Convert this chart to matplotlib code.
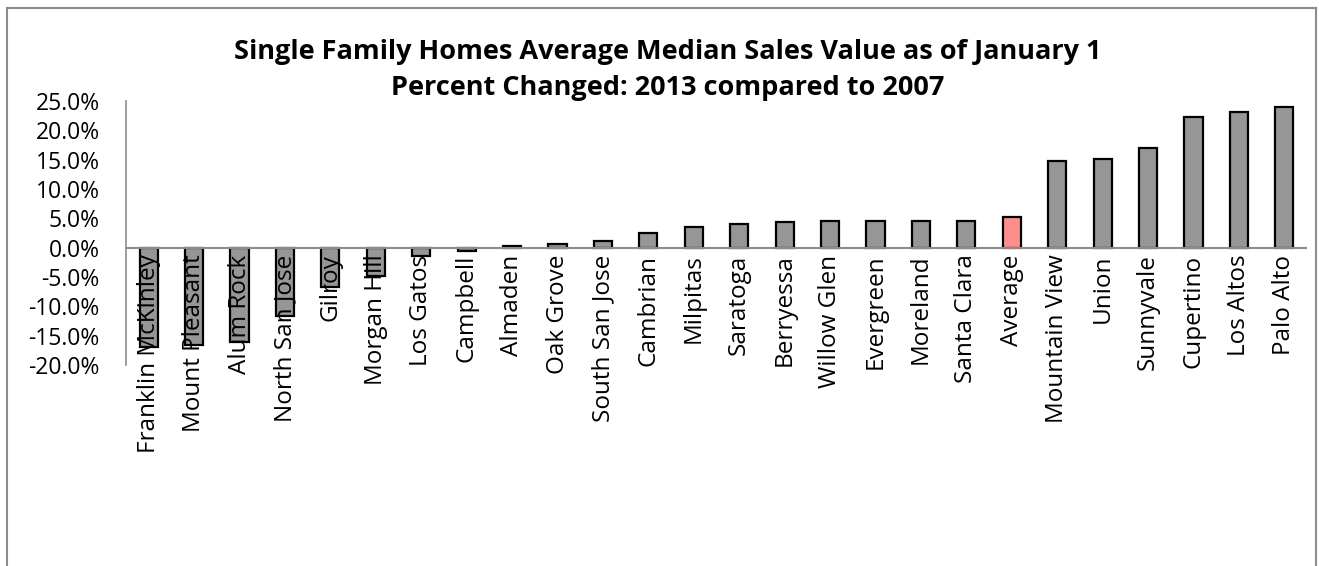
import matplotlib.pyplot as plt
from matplotlib.ticker import FuncFormatter
from matplotlib.lines import Line2D

areas = ['Franklin McKinley', 'Mount Pleasant', 'Alum Rock', 'North San Jose', 'Gilroy',
         'Morgan Hill', 'Los Gatos', 'Campbell', 'Almaden', 'Oak Grove', 'South San Jose',
         'Cambrian', 'Milpitas', 'Saratoga', 'Berryessa', 'Willow Glen', 'Evergreen',
         'Moreland', 'Santa Clara', 'Average', 'Mountain View', 'Union', 'Sunnyvale',
         'Cupertino', 'Los Altos', 'Palo Alto']
pct_change = [-16.9, -16.6, -16.1, -11.6, -6.7, -4.8, -1.5, -0.6, 0.3, 0.7, 1.1,
              2.5, 3.5, 4.1, 4.4, 4.5, 4.5, 4.5, 4.5, 5.2, 14.7, 15.1, 17.0,
              22.2, 23.1, 24.0]
y_ticks = [-20, -15, -10, -5, 0, 5, 10, 15, 20, 25]

font = 'Open Sans'
W, H = 1319, 566
fig = plt.figure(figsize=(W / 100, H / 100), dpi=100)
# plot area in pixels: x 126..1307, y 101..365
ax = fig.add_axes([126 / W, 1 - 365 / H, (1307 - 126) / W, (365 - 101) / H])

colors = ['#FF8F8F' if a == 'Average' else '#969696' for a in areas]
x = list(range(len(areas)))
ax.bar(x, pct_change, width=0.4, color=colors, edgecolor='black', linewidth=1.6, zorder=2)

ax.set_xlim(-0.5, len(areas) - 0.5)
ax.set_ylim(-20, 25)
ax.set_yticks(y_ticks)
ax.yaxis.set_major_formatter(FuncFormatter(lambda v, p: f'{v:.1f}%'))
ax.tick_params(axis='y', length=0, pad=19, labelsize=16.5)
for lab in ax.get_yticklabels():
    lab.set_fontfamily(font)
ax.set_xticks([])

for s in ['top', 'right', 'bottom']:
    ax.spines[s].set_visible(False)
ax.spines['left'].set_color('#8C8C8C')
ax.spines['left'].set_linewidth(1.2)
ax.axhline(0, color='#8C8C8C', linewidth=1.5, zorder=3)

# category labels hang from the zero line, drawn over the bars
for i, name in enumerate(areas):
    ax.annotate(name, (i, 0), xytext=(0, -5), textcoords='offset points',
                rotation=90, ha='center', va='top', fontsize=17.5,
                fontfamily=font, zorder=5, annotation_clip=False)

fig.text(0.506, 1 - 52 / H, 'Single Family Homes Average Median Sales Value as of January 1',
         ha='center', va='center', fontsize=19.5, fontweight='bold', fontfamily=font)
fig.text(0.506, 1 - 88 / H, 'Percent Changed: 2013 compared to 2007',
         ha='center', va='center', fontsize=19.5, fontweight='bold', fontfamily=font)

# chart frame
bx0, by0, bx1 = 7 / W, 1 - 8 / H, 1316 / W
for xs, ys in [([bx0, bx0], [0, by0]), ([bx0, bx1], [by0, by0]), ([bx1, bx1], [by0, 0])]:
    fig.add_artist(Line2D(xs, ys, color='#8C8C8C', linewidth=1.5, transform=fig.transFigure))

fig.savefig('out.png', dpi=100)
